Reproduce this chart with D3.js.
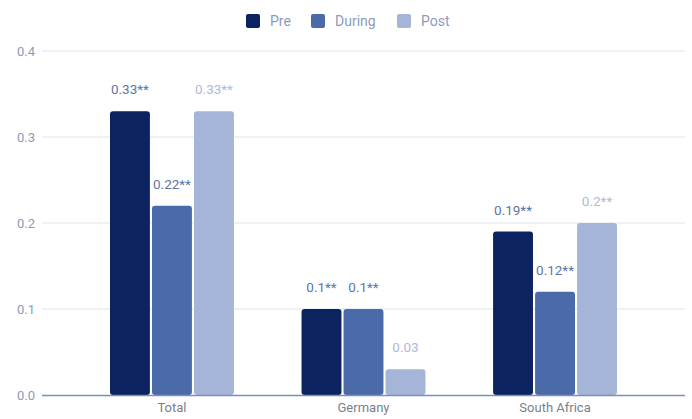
<!DOCTYPE html>
<html>
<head>
<meta charset="utf-8">
<script src="https://cdn.jsdelivr.net/npm/d3@7/dist/d3.min.js"></script>
<style>
  html, body { margin: 0; padding: 0; background: #fff; }
  svg { display: block; font-family: Roboto, "Noto Sans", sans-serif; }
</style>
</head>
<body>
<svg id="chart" width="692" height="419"></svg>
<script>
// Survey coefficients by country and period
const categories = ["Total", "Germany", "South Africa"];
const seriesNames = ["Pre", "During", "Post"];
const preValues = [0.33, 0.10, 0.19];
const duringValues = [0.22, 0.10, 0.12];
const postValues = [0.33, 0.03, 0.20];
const valueLabels = [
  ["0.33**", "0.1**", "0.19**"],
  ["0.22**", "0.1**", "0.12**"],
  ["0.33**", "0.03", "0.2**"]
];
const yTicks = [0, 0.1, 0.2, 0.3, 0.4];

const seriesValues = [preValues, duringValues, postValues];
const colors = ["#0b2461", "#4a6aaa", "#a4b5d7"];
const labelColors = ["#5f74a6", "#5f74a6", "#aebbd9"];

const svg = d3.select("#chart");
const plotLeft = 42, plotRight = 685, plotTop = 51, plotBottom = 395;

const y = d3.scaleLinear().domain([0, 0.4]).range([plotBottom, plotTop]);
const x0 = d3.scaleBand().domain(categories).range([110, 617]).paddingInner(0.353).paddingOuter(0);
const x1 = d3.scaleBand().domain(seriesNames).range([0, x0.bandwidth()]).paddingInner(0.05).paddingOuter(0);

// Gridlines
svg.append("g").selectAll("line").data(yTicks.filter(d => d > 0)).join("line")
  .attr("x1", plotLeft).attr("x2", plotRight)
  .attr("y1", d => y(d)).attr("y2", d => y(d))
  .attr("stroke", "#dde2ec").attr("stroke-width", 1);

// Y axis labels
const yAxis = d3.axisLeft(y).tickValues(yTicks).tickFormat(d3.format(".1f")).tickSize(0).tickPadding(0);
const yg = svg.append("g").attr("transform", `translate(35,0)`).call(yAxis);
yg.select(".domain").remove();
yg.selectAll("text").attr("fill", "#8c9bbd").attr("font-size", 13).attr("font-family", "Roboto, sans-serif");

// Bars
const groups = svg.append("g").selectAll("g").data(seriesNames).join("g");
groups.each(function(name, si) {
  const g = d3.select(this);
  g.selectAll("rect").data(categories).join("rect")
    .attr("x", c => x0(c) + x1(name))
    .attr("y", (c, ci) => y(seriesValues[si][ci]))
    .attr("width", x1.bandwidth())
    .attr("height", (c, ci) => y(0) - y(seriesValues[si][ci]))
    .attr("rx", 3).attr("ry", 3)
    .attr("fill", colors[si]);
  g.selectAll("text").data(categories).join("text")
    .attr("x", c => x0(c) + x1(name) + x1.bandwidth() / 2)
    .attr("y", (c, ci) => y(seriesValues[si][ci]) - 17)
    .attr("text-anchor", "middle")
    .attr("font-size", 13.5)
    .attr("fill", labelColors[si])
    .text((c, ci) => valueLabels[si][ci]);
});

// Baseline
svg.append("line").attr("x1", plotLeft).attr("x2", plotRight)
  .attr("y1", plotBottom + 0.5).attr("y2", plotBottom + 0.5)
  .attr("stroke", "#7d8fb8").attr("stroke-width", 1.5);

// X axis labels
const xAxis = d3.axisBottom(x0).tickSize(0).tickPadding(7);
const xg = svg.append("g").attr("transform", `translate(0,${plotBottom + 1})`).call(xAxis);
xg.select(".domain").remove();
xg.selectAll("text").attr("fill", "#7a7f8c").attr("font-size", 13).attr("font-family", "Roboto, sans-serif");

// Legend
const legendX = [246, 311, 397];
const legend = svg.append("g").selectAll("g").data(seriesNames).join("g")
  .attr("transform", (d, i) => `translate(${legendX[i]},14)`);
legend.append("rect").attr("width", 14).attr("height", 14).attr("rx", 2).attr("fill", (d, i) => colors[i]);
legend.append("text").attr("x", 24).attr("y", 12).attr("font-size", 14).attr("fill", "#8c9bbd").text(d => d);
</script>
</body>
</html>
